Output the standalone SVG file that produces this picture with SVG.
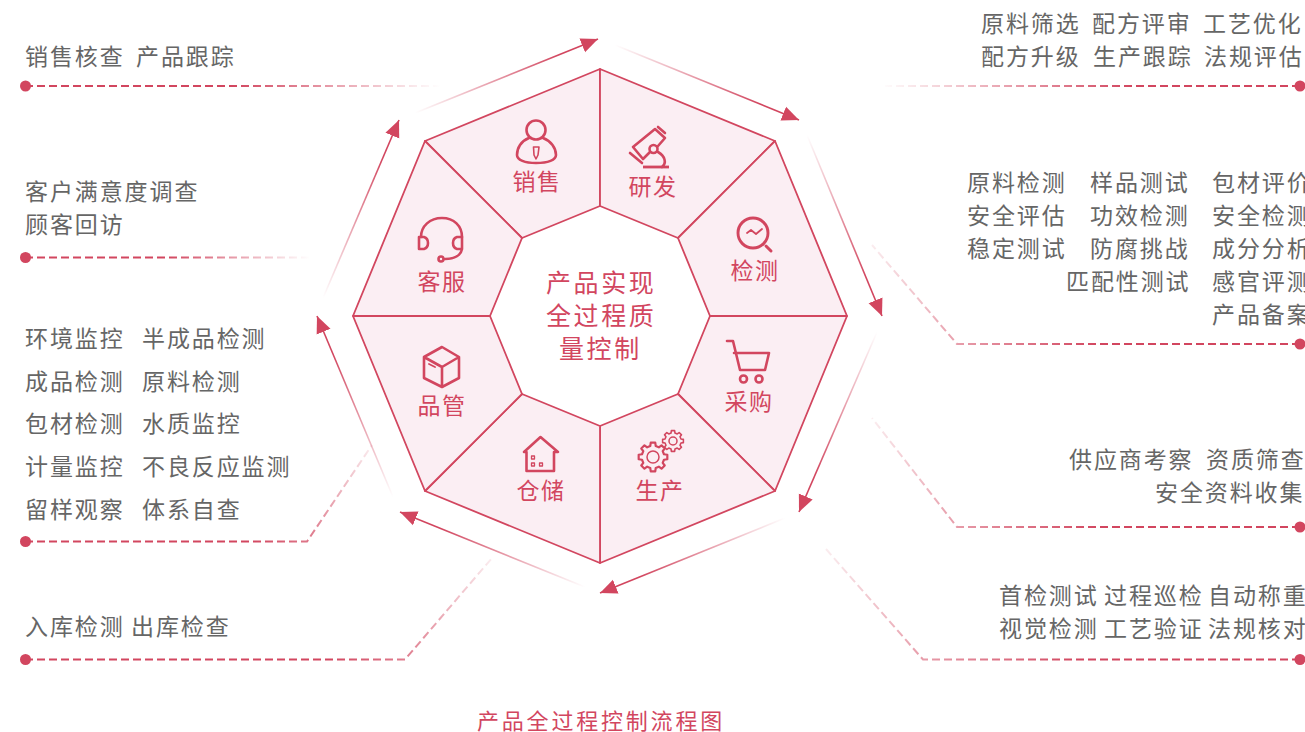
<svg xmlns="http://www.w3.org/2000/svg" width="1305" height="732" viewBox="0 0 1305 732">
<style>
text{font-family:"Noto Sans CJK SC","Liberation Sans",sans-serif}
.t{font-size:23px;letter-spacing:1.9px;fill:#666}
.n{font-size:23px;letter-spacing:1.500px;fill:#d2465f;text-anchor:middle}
.c{font-size:25px;letter-spacing:2.600px;fill:#d2465f}
.cap{font-size:22px;letter-spacing:2.800px;fill:#d2465f}
.s{fill:#fbeef3;stroke:#d2465f;stroke-width:1.800;stroke-linejoin:round}
.i{fill:none;stroke:#d2465f;stroke-width:2.600;stroke-linejoin:round;stroke-linecap:round}
.i2{fill:none;stroke:#d2465f;stroke-width:1.500;stroke-linejoin:round;vector-effect:non-scaling-stroke}
.a{fill:none;stroke-width:1.600;marker-end:url(#h)}
.l{fill:none;stroke-width:2;stroke-dasharray:8 4}
.d{fill:#d2465f}
</style>
<defs>
<marker id="h" markerUnits="userSpaceOnUse" markerWidth="20" markerHeight="18" viewBox="0 -9 20 18" refX="17" refY="0" orient="auto"><path d="M0-7.500L17 0L0 7.500Z" fill="#d2465f"/></marker>
<path id="gear" d="M7.57-1.89L9.88-1.56L9.88 1.56L7.57 1.89L6.69 4.02L8.09 5.88L5.88 8.09L4.02 6.69L1.89 7.57L1.56 9.88L-1.56 9.88L-1.89 7.57L-4.02 6.69L-5.88 8.09L-8.09 5.88L-6.69 4.02L-7.57 1.89L-9.88 1.56L-9.88-1.56L-7.57-1.89L-6.69-4.02L-8.09-5.88L-5.88-8.09L-4.02-6.69L-1.89-7.57L-1.56-9.88L1.56-9.88L1.89-7.57L4.02-6.69L5.88-8.09L8.09-5.88L6.69-4.02Z"/>
<linearGradient id="a1" gradientUnits="userSpaceOnUse" x1="415" y1="113" x2="560" y2="54"><stop offset="0" stop-color="#d2465f" stop-opacity="0"/><stop offset="1" stop-color="#d2465f"/></linearGradient>
<linearGradient id="a2" gradientUnits="userSpaceOnUse" x1="615" y1="45" x2="760" y2="104"><stop offset="0" stop-color="#d2465f" stop-opacity="0"/><stop offset="1" stop-color="#d2465f"/></linearGradient>
<linearGradient id="a3" gradientUnits="userSpaceOnUse" x1="807" y1="135" x2="866" y2="277"><stop offset="0" stop-color="#d2465f" stop-opacity="0"/><stop offset="1" stop-color="#d2465f"/></linearGradient>
<linearGradient id="a4" gradientUnits="userSpaceOnUse" x1="877" y1="332" x2="815" y2="475"><stop offset="0" stop-color="#d2465f" stop-opacity="0"/><stop offset="1" stop-color="#d2465f"/></linearGradient>
<linearGradient id="a5" gradientUnits="userSpaceOnUse" x1="785" y1="518" x2="640" y2="577"><stop offset="0" stop-color="#d2465f" stop-opacity="0"/><stop offset="1" stop-color="#d2465f"/></linearGradient>
<linearGradient id="a6" gradientUnits="userSpaceOnUse" x1="585" y1="587" x2="440" y2="528"><stop offset="0" stop-color="#d2465f" stop-opacity="0"/><stop offset="1" stop-color="#d2465f"/></linearGradient>
<linearGradient id="a7" gradientUnits="userSpaceOnUse" x1="393" y1="497" x2="333" y2="354"><stop offset="0" stop-color="#d2465f" stop-opacity="0"/><stop offset="1" stop-color="#d2465f"/></linearGradient>
<linearGradient id="a8" gradientUnits="userSpaceOnUse" x1="323" y1="298" x2="383" y2="158"><stop offset="0" stop-color="#d2465f" stop-opacity="0"/><stop offset="1" stop-color="#d2465f"/></linearGradient>
<linearGradient id="l1" gradientUnits="userSpaceOnUse" x1="25" y1="86" x2="440" y2="86"><stop offset="0" stop-color="#d2465f"/><stop offset=".5" stop-color="#d2465f"/><stop offset="1" stop-color="#d2465f" stop-opacity="0"/></linearGradient>
<linearGradient id="l2" gradientUnits="userSpaceOnUse" x1="25" y1="257" x2="310" y2="257"><stop offset="0" stop-color="#d2465f"/><stop offset=".5" stop-color="#d2465f"/><stop offset="1" stop-color="#d2465f" stop-opacity="0"/></linearGradient>
<linearGradient id="l3" gradientUnits="userSpaceOnUse" x1="250" y1="541" x2="372" y2="445"><stop offset="0" stop-color="#d2465f"/><stop offset="1" stop-color="#d2465f" stop-opacity=".1"/></linearGradient>
<linearGradient id="l4" gradientUnits="userSpaceOnUse" x1="330" y1="659" x2="492" y2="558"><stop offset="0" stop-color="#d2465f"/><stop offset="1" stop-color="#d2465f" stop-opacity=".1"/></linearGradient>
<linearGradient id="r1" gradientUnits="userSpaceOnUse" x1="1300" y1="86" x2="880" y2="86"><stop offset="0" stop-color="#d2465f"/><stop offset=".4" stop-color="#d2465f"/><stop offset="1" stop-color="#d2465f" stop-opacity="0"/></linearGradient>
<linearGradient id="r2" gradientUnits="userSpaceOnUse" x1="1100" y1="344" x2="872" y2="245"><stop offset="0" stop-color="#d2465f"/><stop offset="1" stop-color="#d2465f" stop-opacity=".1"/></linearGradient>
<linearGradient id="r3" gradientUnits="userSpaceOnUse" x1="1100" y1="527" x2="872" y2="418"><stop offset="0" stop-color="#d2465f"/><stop offset="1" stop-color="#d2465f" stop-opacity=".1"/></linearGradient>
<linearGradient id="r4" gradientUnits="userSpaceOnUse" x1="1080" y1="659" x2="826" y2="549"><stop offset="0" stop-color="#d2465f"/><stop offset="1" stop-color="#d2465f" stop-opacity=".1"/></linearGradient>
</defs>

<g id="connectors">
<path class="a" stroke="url(#a1)" d="M415 113L598 39"/>
<path class="a" stroke="url(#a2)" d="M615 45L799 120"/>
<path class="a" stroke="url(#a3)" d="M807 135L882 316"/>
<path class="a" stroke="url(#a4)" d="M877 332L799 512"/>
<path class="a" stroke="url(#a5)" d="M785 518L600 593"/>
<path class="a" stroke="url(#a6)" d="M585 587L400 512"/>
<path class="a" stroke="url(#a7)" d="M393 497L317 316"/>
<path class="a" stroke="url(#a8)" d="M323 298L399 120"/>
<path class="l" stroke="url(#l1)" d="M25 86H440"/>
<path class="l" stroke="url(#l2)" d="M25 257.500H310"/>
<path class="l" stroke="url(#l3)" d="M25 541.500H307L372 445"/>
<path class="l" stroke="url(#l4)" d="M25 659.500H405L492 558"/>
<path class="l" stroke="url(#r1)" d="M1300 86H885"/>
<path class="l" stroke="url(#r2)" d="M1300 344H957L872 245"/>
<path class="l" stroke="url(#r3)" d="M1300 527H957L872 418"/>
<path class="l" stroke="url(#r4)" d="M1300 659.500H923L826 549"/>
<circle class="d" cx="25.500" cy="86" r="5.500"/><circle class="d" cx="25.500" cy="257.500" r="5.500"/><circle class="d" cx="25.500" cy="541.500" r="5.500"/><circle class="d" cx="25.500" cy="659.500" r="5.500"/>
<circle class="d" cx="1300" cy="86" r="5.500"/><circle class="d" cx="1300" cy="344" r="5.500"/><circle class="d" cx="1300" cy="527" r="5.500"/><circle class="d" cx="1300" cy="659.500" r="5.500"/>
</g>

<g id="node-sales"><path class="s" d="M600 69V206L522 238L425 141Z"/>
<circle class="i" cx="536" cy="130" r="9.500"/><path class="i" d="M529 138C521 141 517 148 517 155C517 160 525 163 536 163C548 163 556 160 556 155C556 148 551 141 543 138"/><path class="i" style="stroke-width:1.600" d="M533.500 147H539L538 155L536 159L534 155Z"/>
<text class="n" x="537" y="190">销售</text></g>
<g id="node-rd"><path class="s" d="M600 69V206L678 238L775 141Z"/>
<path class="i" d="M650 152L643 159L633 147L655 129L665 138L658 146M630 153L642 163M658 127L665 133M658 152C665 156 667 163 662 167"/><circle class="i" cx="653.500" cy="149" r="4"/><path class="i" style="stroke-width:2.800;stroke-linecap:butt" d="M643 167H669"/>
<text class="n" x="653" y="195">研发</text></g>
<g id="node-test"><path class="s" d="M775 141L678 238L710 316H847Z"/>
<circle class="i" style="stroke-width:2.900" cx="753" cy="233" r="15"/><path class="i" style="stroke-width:3" d="M766 246L771 251"/><path class="i" style="stroke-width:1.800" d="M747 233L751 230L756 234L762 229"/>
<text class="n" x="755" y="279">检测</text></g>
<g id="node-purchase"><path class="s" d="M847 316H710L678 394L775 491Z"/>
<path class="i" d="M727 341H733L740 370H765L769 353H734"/><circle class="i" cx="743.500" cy="379" r="3.500"/><circle class="i" cx="759" cy="379" r="3.500"/>
<text class="n" x="749" y="410">采购</text></g>
<g id="node-production"><path class="s" d="M775 491L678 394L600 426V563Z"/>
<use href="#gear" class="i2" transform="translate(653 457) scale(1.450)"/><circle class="i2" cx="653" cy="457" r="6"/>
<use href="#gear" class="i2" transform="translate(673 441) scale(1.050)"/><circle class="i2" cx="673" cy="441" r="4"/>
<text class="n" x="660" y="499">生产</text></g>
<g id="node-storage"><path class="s" d="M600 563V426L522 394L425 491Z"/>
<path class="i" d="M524 452L540.500 437L558 452H554V471H526.500V452Z"/><path class="i" style="stroke-width:1.300" d="M531.500 456H534.500V459H531.500ZM531.500 463H534.500V466H531.500ZM539.500 463H542.500V466H539.500Z"/>
<text class="n" x="541" y="499">仓储</text></g>
<g id="node-qc"><path class="s" d="M425 491L522 394L490 316H353Z"/>
<path class="i" d="M442 347L459 357V378L442 387L424 378V357ZM424 357L442 367L459 357M442 367V387"/><path class="i" style="stroke-width:1.800" d="M429 364L435 367"/>
<text class="n" x="442" y="414">品管</text></g>
<g id="node-service"><path class="s" d="M353 316H490L522 238L425 141Z"/>
<path class="i" d="M421 237C421 226 430 218 442 218C454 218 462 226 462 237"/><path class="i" d="M419 237H424C427 238 428 241 428 243C428 246 427 248 424 249H419ZM462 237H457C454 238 453 241 453 243C453 246 454 248 457 249H462ZM462 249C461 255 455 259 445 259"/><circle class="i" cx="441" cy="259" r="2.500"/>
<text class="n" x="442" y="290">客服</text></g>

<g id="center">
<text class="c" x="546" y="292">产品实现</text>
<text class="c" x="546" y="325">全过程质</text>
<text class="c" x="559" y="358">量控制</text>
</g>

<g id="labels-left">
<text class="t" x="25" y="65">销售核查</text><text class="t" x="136" y="65">产品跟踪</text>
<text class="t" x="25" y="200">客户满意度调查</text><text class="t" x="25" y="233">顾客回访</text>
<text class="t" x="25" y="347">环境监控</text><text class="t" x="142" y="347">半成品检测</text>
<text class="t" x="25" y="390">成品检测</text><text class="t" x="142" y="390">原料检测</text>
<text class="t" x="25" y="432">包材检测</text><text class="t" x="142" y="432">水质监控</text>
<text class="t" x="25" y="475">计量监控</text><text class="t" x="142" y="475">不良反应监测</text>
<text class="t" x="25" y="518">留样观察</text><text class="t" x="142" y="518">体系自查</text>
<text class="t" x="25" y="635">入库检测</text><text class="t" x="131" y="635">出库检查</text>
</g>
<g id="labels-right">
<text class="t" x="981" y="32">原料筛选</text><text class="t" x="1092" y="32">配方评审</text><text class="t" x="1203" y="32">工艺优化</text>
<text class="t" x="981" y="65">配方升级</text><text class="t" x="1093" y="65">生产跟踪</text><text class="t" x="1204" y="65">法规评估</text>
<text class="t" x="967" y="191">原料检测</text><text class="t" x="1090" y="191">样品测试</text><text class="t" x="1212" y="191">包材评价</text>
<text class="t" x="967" y="224">安全评估</text><text class="t" x="1090" y="224">功效检测</text><text class="t" x="1212" y="224">安全检测</text>
<text class="t" x="967" y="257">稳定测试</text><text class="t" x="1090" y="257">防腐挑战</text><text class="t" x="1212" y="257">成分分析</text>
<text class="t" x="1066" y="290">匹配性测试</text><text class="t" x="1212" y="290">感官评测</text>
<text class="t" x="1212" y="323">产品备案</text>
<text class="t" x="1069" y="468">供应商考察</text><text class="t" x="1206" y="468">资质筛查</text>
<text class="t" x="1155" y="501">安全资料收集</text>
<text class="t" x="999" y="604">首检测试</text><text class="t" x="1104" y="604">过程巡检</text><text class="t" x="1208" y="604">自动称重</text>
<text class="t" x="999" y="637">视觉检测</text><text class="t" x="1104" y="637">工艺验证</text><text class="t" x="1208" y="637">法规核对</text>
</g>
<text class="cap" x="477" y="729">产品全过程控制流程图</text>
</svg>
